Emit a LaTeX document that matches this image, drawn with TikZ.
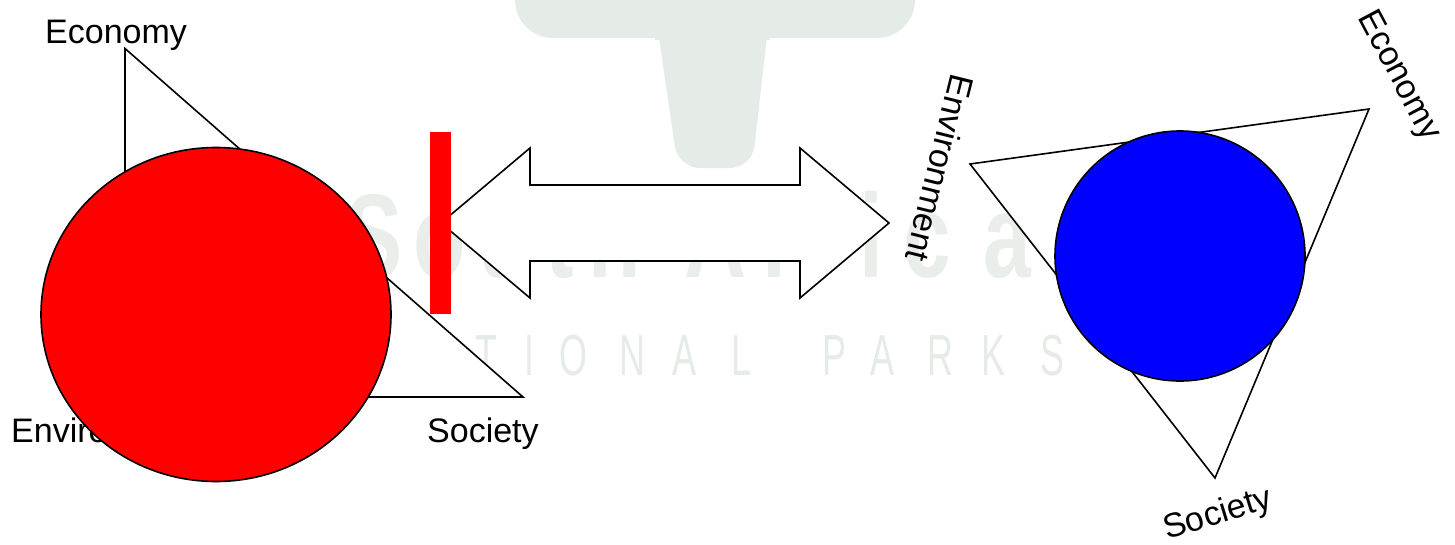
\documentclass[tikz,border=0pt]{standalone}
\usepackage{fontspec}
\setmainfont{Liberation Sans}
\usetikzlibrary{shapes.geometric}
\definecolor{wm}{RGB}{229,236,231}
\definecolor{wmb}{RGB}{233,238,235}
\definecolor{pureRed}{RGB}{255,0,0}
\definecolor{pureBlue}{RGB}{0,0,255}
\begin{document}
\begin{tikzpicture}[x=1pt,y=-1pt,
  outl/.style={draw=black,line width=1.6pt,line join=miter},
  lbl/.style={inner sep=0pt,anchor=base west,font=\fontsize{34}{40}\selectfont},
  rlbl/.style={inner sep=0pt,anchor=center,font=\fontsize{34}{40}\selectfont},
  wmbig/.style={text=wmb,inner sep=0pt,anchor=base,font=\bfseries\fontsize{119}{120}\selectfont,xscale=0.72},
  wmsmall/.style={text=wm,inner sep=0pt,anchor=base,font=\fontsize{58}{60}\selectfont,xscale=0.62}]
\useasboundingbox (0,0) rectangle (1455,544);
\fill[white] (0,0) rectangle (1455,544);
% watermark logo
\fill[wm,rounded corners=38pt] (515,-80) rectangle (915,38);
\fill[wm,rounded corners=22pt] (655,10) -- (770,10) -- (752,168) -- (678,168) -- cycle;
\fill[wm] (655,30) rectangle (770,40);
% watermark text
\foreach \ch/\xx [count=\i] in {S/374,o/440,u/505,t/560,h/615,A/715,f/775,r/815,i/871,c/927,a/1007,n/1075}
  \node[wmbig] (wb\i) at (\xx,277) {\ch};
\foreach \ch/\xx [count=\i] in {N/378,A/432,T/486,I/529,O/573,N/632,A/684,L/741,P/834,A/882,R/940,K/993,S/1052}
  \node[wmsmall] (ws\i) at (\xx,375) {\ch};
% left triangle
\coordinate (lt1) at (125,48.5);
\coordinate (lt2) at (125,397);
\coordinate (lt3) at (523,397);
\filldraw[outl,fill=white] (lt1) -- (lt2) -- (lt3) -- cycle;
\node[lbl] (lecon) at (45,43) {Economy};
\node[lbl] (lenv) at (11,442) {Environment};
\node[lbl] (lsoc) at (427,442) {Society};
\node[ellipse,outl,fill=pureRed,minimum width=350pt,minimum height=334pt,inner sep=0pt] (redc) at (216,314.5) {};
% double arrow
\coordinate (at1) at (441,223);
\coordinate (at2) at (889,223);
\filldraw[outl,fill=white] (at1) -- (530,148) -- (530,185) -- (800,185) -- (800,148) -- (at2)
  -- (800,298) -- (800,261) -- (530,261) -- (530,298) -- cycle;
\node[fill=pureRed,draw=none,inner sep=0pt,minimum width=21pt,minimum height=182pt] (bar) at (440.5,223) {};
% right triangle
\coordinate (rt1) at (970,164);
\coordinate (rt2) at (1369,109);
\coordinate (rt3) at (1215,478);
\filldraw[outl,fill=white] (rt1) -- (rt2) -- (rt3) -- cycle;
\node[circle,outl,fill=pureBlue,minimum size=250pt,inner sep=0pt] (bluec) at (1180,256) {};
\node[rlbl,rotate=-104] (renv) at (940,168) {Environment};
\node[rlbl,rotate=-62] (recon) at (1398,76) {Economy};
\node[rlbl,rotate=17] (rsoc) at (1218,515) {Society};
\end{tikzpicture}
\end{document}
